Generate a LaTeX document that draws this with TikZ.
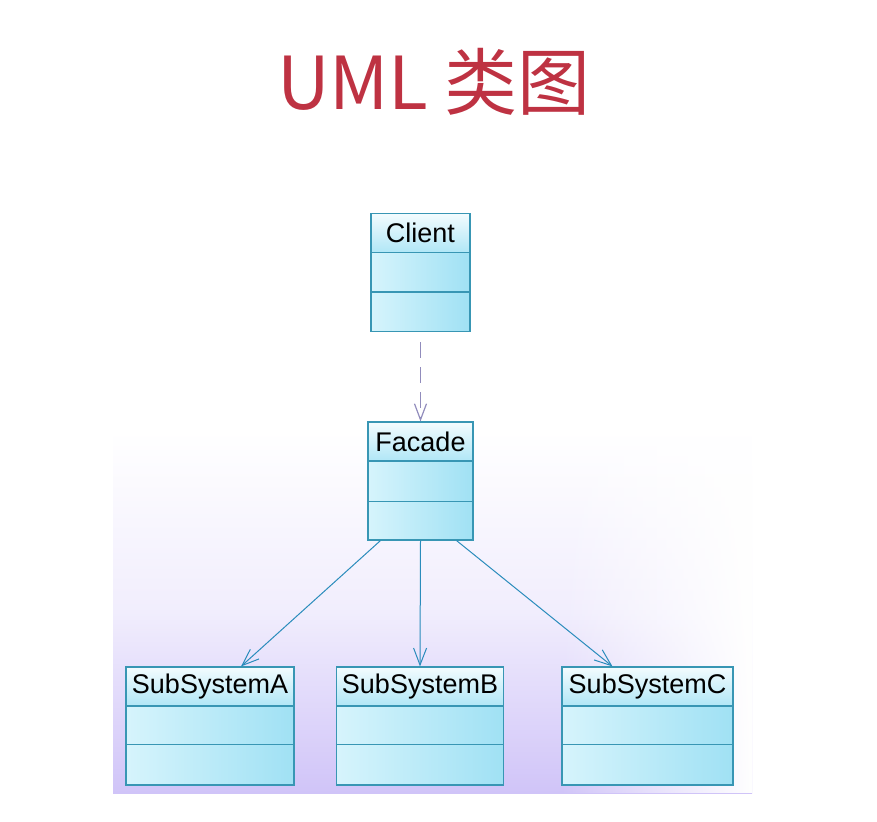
\documentclass[tikz,border=0pt]{standalone}
\usepackage{fontspec}
\setmainfont{Liberation Sans}
\newfontfamily\cjk{Noto Sans CJK SC}
\usetikzlibrary{positioning,calc,arrows.meta,fadings}

\definecolor{titlered}{RGB}{190,50,66}
\definecolor{clsline}{RGB}{56,150,180}
\definecolor{clsfillA}{RGB}{214,244,252}
\definecolor{clsfillB}{RGB}{160,225,244}
\definecolor{assoc}{RGB}{42,140,188}
\definecolor{dep}{RGB}{145,140,188}
\definecolor{bgpurple}{RGB}{208,196,248}

\tikzset{
  clsbox/.style={draw=clsline, line width=1.1pt, left color=clsfillA, right color=clsfillB,
    minimum height=118pt, inner sep=0pt},
  clshead/.style={draw=clsline, line width=1.1pt, top color=white!70!clsfillA, bottom color=clsfillB!70!clsfillA,
    minimum height=39pt, inner sep=0pt, anchor=north, font=\fontsize{27}{27}\selectfont},
  clsdiv/.style={draw=clsline, line width=1.1pt},
  assocline/.style={draw=assoc, line width=1pt, -{Straight Barb[length=17pt,width=13pt]}},
  depline/.style={draw=dep, line width=1.2pt, dash pattern=on 16pt off 9pt,
    -{Straight Barb[length=16pt,width=12pt]}}
}

\begin{document}
\begin{tikzpicture}[x=1pt,y=-1pt]
  \useasboundingbox (0,0) rectangle (877,821);

  % background panel
  \shade[top color=white, bottom color=bgpurple, middle color=bgpurple!30] (113,430) rectangle (752,793);
  \fill[white, path fading=west] (560,430) rectangle (752,793);

  % title
  \node[text=titlered, font=\cjk\fontsize{73}{73}\selectfont] (title) at (434,82) {UML 类图};

  % Client
  \node[clsbox, minimum width=99pt] (client) at (420.5,272.5) {};
  \node[clshead, minimum width=99pt] (clientH) at (client.north) {Client};
  \draw[clsdiv] ([yshift=-79pt]client.north west) -- ([yshift=-79pt]client.north east);

  % Facade
  \node[clsbox, minimum width=105pt] (facade) at (420.5,481) {};
  \node[clshead, minimum width=105pt] (facadeH) at (facade.north) {Facade};
  \draw[clsdiv] ([yshift=-80pt]facade.north west) -- ([yshift=-80pt]facade.north east);

  % subsystems
  \node[clsbox, minimum width=168pt] (subA) at (210,726) {};
  \node[clshead, minimum width=168pt] (subAH) at (subA.north) {SubSystemA};
  \draw[clsdiv] ([yshift=-78pt]subA.north west) -- ([yshift=-78pt]subA.north east);

  \node[clsbox, minimum width=167pt] (subB) at (420,726) {};
  \node[clshead, minimum width=167pt] (subBH) at (subB.north) {SubSystemB};
  \draw[clsdiv] ([yshift=-78pt]subB.north west) -- ([yshift=-78pt]subB.north east);

  \node[clsbox, minimum width=171pt] (subC) at (647.5,726) {};
  \node[clshead, minimum width=171pt] (subCH) at (subC.north) {SubSystemC};
  \draw[clsdiv] ([yshift=-78pt]subC.north west) -- ([yshift=-78pt]subC.north east);

  % relations
  \draw[depline, shorten <=10pt] (client.south) -- (facade.north);
  \draw[assocline] ([xshift=-40pt]facade.south) -- ([xshift=31pt]subA.north);
  \draw[assocline] (facade.south) -- (subB.north);
  \draw[assocline] ([xshift=36pt]facade.south) -- ([xshift=-35pt]subC.north);
\end{tikzpicture}
\end{document}
